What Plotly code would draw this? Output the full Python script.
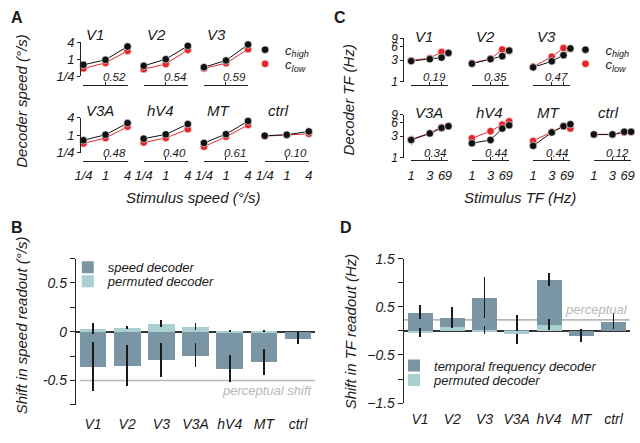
import math
import plotly.graph_objects as go

# ---------------- data ----------------
REGIONS = ['V1', 'V2', 'V3', 'V3A', 'hV4', 'MT', 'ctrl']

# Panel A: decoded speed (deg/s) vs stimulus speed
STIM_SPEED = [0.25, 1, 4]
SPEED_TICKTEXT = ['1/4', '1', '4']
dec_speed_high = [
    [0.64, 0.96, 2.83],
    [0.59, 1.01, 2.97],
    [0.53, 0.91, 3.30],
    [0.67, 1.04, 2.64],
    [0.76, 1.07, 2.44],
    [0.54, 1.09, 3.09],
    [0.96, 1.04, 1.35],
]
dec_speed_low = [
    [0.48, 0.75, 1.98],
    [0.45, 0.68, 2.15],
    [0.48, 0.73, 2.27],
    [0.52, 0.80, 1.98],
    [0.56, 0.80, 1.61],
    [0.40, 0.89, 2.26],
    [0.93, 1.00, 1.12],
]
speed_slope = [0.52, 0.54, 0.59, 0.48, 0.40, 0.61, 0.10]

# Panel C: decoded TF (Hz) vs stimulus TF
STIM_TF = [1, 3, 6, 9]
TF_TICKTEXT = ['1', '3', '6', '9']
dec_tf_high = [
    [2.85, 3.15, 3.40, 4.30],
    [2.50, 3.15, 3.65, 4.85],
    [2.07, 2.82, 3.84, 5.40],
    [2.48, 3.45, 4.57, 4.97],
    [2.10, 2.48, 4.42, 5.20],
    [1.84, 3.63, 4.97, 5.48],
    [3.29, 3.29, 3.75, 3.75],
]
dec_tf_low = [
    [2.95, 3.30, 4.50, 4.30],
    [2.57, 3.16, 5.10, 4.76],
    [2.13, 3.56, 5.49, 5.30],
    [2.55, 3.50, 4.70, 5.00],
    [2.70, 3.87, 5.40, 6.36],
    [2.36, 3.69, 4.97, 4.42],
    [3.25, 3.25, 3.60, 3.72],
]
dec_tf_high_err = [
    [0.35, 0.15, 0.15, 0.60],
    [0.40, 0.15, 0.20, 0.30],
    [0.45, 0.50, 0.30, 0.40],
    [0.60, 0.20, 0.45, 0.70],
    [0.15, 0.20, 0.20, 0.30],
    [0.35, 0.30, 0.20, 0.45],
    [0.10, 0.10, 0.10, 0.10],
]
dec_tf_low_err = [
    [0.30, 0.20, 0.40, 0.40],
    [0.30, 0.20, 0.40, 0.30],
    [0.40, 0.40, 0.60, 0.80],
    [0.60, 0.20, 0.50, 0.50],
    [0.20, 0.20, 0.30, 0.40],
    [0.30, 0.20, 0.20, 0.40],
    [0.10, 0.10, 0.10, 0.10],
]
tf_slope = [0.19, 0.35, 0.47, 0.34, 0.44, 0.44, 0.12]

# Panel B: shift in speed readout (deg/s)
speed_shift = [-0.36, -0.35, -0.29, -0.24, -0.38, -0.31, -0.066]
speed_shift_err = [0.25, 0.21, 0.17, 0.12, 0.14, 0.13, 0.058]
speed_perm = [0.03, 0.04, 0.08, 0.05, 0.004, 0.012, 0.0]
speed_perm_err = [0.058, 0.015, 0.036, 0.035, 0.01, 0.01, 0.0]
PERCEPTUAL_SPEED_SHIFT = -0.5

# Panel D: shift in TF readout (Hz)
tf_shift = [0.39, 0.27, 0.69, 0.03, 1.07, -0.10, 0.20]
tf_shift_err = [0.14, 0.23, 0.43, 0.30, 0.14, 0.13, 0.17]
tf_perm = [-0.03, 0.09, 0.02, -0.05, 0.13, 0.0, 0.0]
tf_perm_err = [0.09, 0.04, 0.08, 0.0, 0.11, 0.0, 0.0]
PERCEPTUAL_TF_SHIFT = 0.23

# ---------------- style ----------------
W, H = 640, 443
FONT = 'Liberation Sans, Arial, sans-serif'
TXT = '#1a1a1a'
AXC = '#222222'
BLACK = '#111111'
RED = '#e3262a'
DARK = '#7a96a5'
LIGHT = '#aacfd1'
GREY = '#b8b8b8'


def fx(p):
    return p / W


def fy(p):
    return 1 - p / H


def keys(n):
    return ('xaxis' if n == 1 else f'xaxis{n}', 'yaxis' if n == 1 else f'yaxis{n}',
            'x' if n == 1 else f'x{n}', 'y' if n == 1 else f'y{n}')


fig = go.Figure()
layout = {}
annotations = []


def italic(size, color=TXT):
    return dict(family=FONT, size=size, color=color, style='italic')


def small_panel(n, xdom, ydom, xline_px, yline_px, xr, yr, tickvals, xtext, ytext,
                show_xlabels, show_yaxis, yfont):
    xk, yk, _, _ = keys(n)
    layout[xk] = dict(type='log', range=xr, domain=[fx(xdom[0]), fx(xdom[1])],
                      anchor='free', position=fy(xline_px), showline=True,
                      linecolor=AXC, linewidth=1.2, ticks='inside', ticklen=3,
                      tickwidth=1.2, tickcolor=AXC, tickvals=tickvals[0], ticktext=xtext,
                      showticklabels=show_xlabels, tickfont=italic(13), tickangle=0,
                      ticklabelstandoff=3, showgrid=False, zeroline=False, fixedrange=True)
    layout[yk] = dict(type='log', range=yr, domain=[fy(ydom[1]), fy(ydom[0])],
                      anchor='free', position=fx(yline_px), visible=show_yaxis,
                      showline=True, linecolor=AXC, linewidth=1.2, ticks='outside',
                      ticklen=3, tickwidth=1.2, tickcolor=AXC, tickvals=tickvals[1],
                      ticktext=ytext, tickfont=italic(yfont), showgrid=False,
                      zeroline=False, fixedrange=True)


MARK_LINE = dict(color='white', width=0.6)

# ---------------- Panel A ----------------
A_COL_X0 = [76, 137.5, 199, 261]
A_W = 45
A_ROWS = [(35.5, 71, 80), (114, 150, 158.3)]
A_YAXIS_X = 72.7
sr = [math.log10(0.25), math.log10(4)]
for i, reg in enumerate(REGIONS):
    n = i + 1
    row, col = (0, i) if i < 3 else (1, i - 3)
    x0 = A_COL_X0[col]
    top, bot, xline = A_ROWS[row]
    small_panel(n, (x0, x0 + A_W), (top, bot), xline, A_YAXIS_X, sr, sr,
                (STIM_SPEED, STIM_SPEED), SPEED_TICKTEXT, SPEED_TICKTEXT,
                row == 1, col == 0, 13)
    _, _, xa, ya = keys(n)
    for yv, c in ((dec_speed_low[i], RED), (dec_speed_high[i], BLACK)):
        fig.add_trace(go.Scatter(x=STIM_SPEED, y=yv, mode='lines', line=dict(color=c, width=1),
                                 xaxis=xa, yaxis=ya, showlegend=False, hoverinfo='skip'))
    fig.add_trace(go.Scatter(x=STIM_SPEED, y=dec_speed_low[i], mode='markers',
                             marker=dict(color=RED, size=7.5, line=MARK_LINE), cliponaxis=False,
                             xaxis=xa, yaxis=ya, name='c<sub>low</sub>',
                             showlegend=(i == 0), legend='legend2'))
    fig.add_trace(go.Scatter(x=STIM_SPEED, y=dec_speed_high[i], mode='markers',
                             marker=dict(color=BLACK, size=7.5, line=MARK_LINE), cliponaxis=False,
                             xaxis=xa, yaxis=ya, name='c<sub>high</sub>',
                             showlegend=(i == 0), legend='legend'))
    annotations.append(dict(text=reg, x=fx(x0 + 1), y=fy(top - 7.5), xref='paper', yref='paper',
                            xanchor='left', yanchor='middle', showarrow=False, font=italic(15)))
    annotations.append(dict(text=f'{speed_slope[i]:.2f}', x=fx(x0 + A_W), y=fy(bot + 0.5),
                            xref='paper', yref='paper', xanchor='right', yanchor='middle',
                            showarrow=False, font=italic(11.5)))

# ---------------- Panel C ----------------
C_COL_X0 = [410.5, 472.5, 535, 597]
C_W = 38
C_ROWS = [(31.5, 76.5, 79.5), (110.5, 155.5, 158)]
C_YAXIS_X = 402.5
tr = [0, math.log10(9)]
for i, reg in enumerate(REGIONS):
    n = 8 + i
    row, col = (0, i) if i < 3 else (1, i - 3)
    x0 = C_COL_X0[col]
    top, bot, xline = C_ROWS[row]
    small_panel(n, (x0, x0 + C_W), (top, bot), xline, C_YAXIS_X, tr, tr,
                (STIM_TF, STIM_TF), TF_TICKTEXT, TF_TICKTEXT, row == 1, col == 0, 12)
    _, _, xa, ya = keys(n)
    for yv, c in ((dec_tf_low[i], RED), (dec_tf_high[i], BLACK)):
        fig.add_trace(go.Scatter(x=STIM_TF, y=yv, mode='lines', line=dict(color=c, width=1),
                                 xaxis=xa, yaxis=ya, showlegend=False, hoverinfo='skip'))
    fig.add_trace(go.Scatter(x=STIM_TF, y=dec_tf_low[i], mode='markers',
                             marker=dict(color=RED, size=7.5, line=MARK_LINE), cliponaxis=False,
                             error_y=dict(type='data', array=dec_tf_low_err[i], color='#ee9a9a',
                                          thickness=1, width=0),
                             xaxis=xa, yaxis=ya, name='c<sub>low</sub>',
                             showlegend=(i == 0), legend='legend4'))
    fig.add_trace(go.Scatter(x=STIM_TF, y=dec_tf_high[i], mode='markers',
                             marker=dict(color=BLACK, size=7.5, line=MARK_LINE), cliponaxis=False,
                             error_y=dict(type='data', array=dec_tf_high_err[i], color='#666666',
                                          thickness=1, width=0),
                             xaxis=xa, yaxis=ya, name='c<sub>high</sub>',
                             showlegend=(i == 0), legend='legend3'))
    annotations.append(dict(text=reg, x=fx(x0 + 2), y=fy(top - 2), xref='paper', yref='paper',
                            xanchor='left', yanchor='middle', showarrow=False, font=italic(15)))
    annotations.append(dict(text=f'{tf_slope[i]:.2f}', x=fx(x0 + C_W), y=fy(bot - 5),
                            xref='paper', yref='paper', xanchor='right', yanchor='middle',
                            showarrow=False, font=italic(11.5)))

# ---------------- Panels B and D ----------------
def bar_panel(n, xdom, ydom, yr, tickvals, ticktext, minorvals, standoff):
    xk, yk, xa, ya = keys(n)
    layout[xk] = dict(domain=[fx(xdom[0]), fx(xdom[1])], range=[-0.5, 6.5], anchor=ya,
                      type='category', showline=False, ticks='', tickfont=italic(14),
                      ticklabelstandoff=standoff, showgrid=False, zeroline=False, fixedrange=True)
    layout[yk] = dict(domain=[fy(ydom[1]), fy(ydom[0])], range=yr, anchor=xa,
                      showline=True, linecolor=AXC, linewidth=1.2, ticks='outside', ticklen=5,
                      tickwidth=1.2, tickcolor=AXC, tickvals=tickvals, ticktext=ticktext,
                      minor=dict(tickvals=minorvals, ticks='outside', ticklen=5, tickwidth=1.2,
                                 tickcolor=AXC, showgrid=False),
                      tickfont=italic(14), showgrid=False, zeroline=True,
                      zerolinecolor='#333333', zerolinewidth=1.5, fixedrange=True)
    return xa, ya


xa, ya = bar_panel(15, (68.3, 312.5), (260, 411.7), [-0.75, 0.75],
                   [-0.5, 0, 0.5], ['-0.5', '0', '0.5'], [-0.75, -0.25, 0.25, 0.75], 9)
fig.add_trace(go.Bar(x=REGIONS, y=speed_shift, width=0.78, marker=dict(color=DARK, line=dict(width=0)),
                     error_y=dict(type='data', array=speed_shift_err, color='#1a1a1a', thickness=1.8, width=0),
                     xaxis=xa, yaxis=ya, name='speed decoder', legend='legend5'))
fig.add_trace(go.Bar(x=REGIONS, y=speed_perm, width=0.78, marker=dict(color=LIGHT, line=dict(width=0)),
                     error_y=dict(type='data', array=speed_perm_err, color='#1a1a1a', thickness=1.8, width=0),
                     xaxis=xa, yaxis=ya, name='permuted decoder', legend='legend6'))
shapes = [dict(type='line', xref=xa, yref=ya, x0=-0.38, x1=6.5,
               y0=PERCEPTUAL_SPEED_SHIFT, y1=PERCEPTUAL_SPEED_SHIFT,
               line=dict(color=GREY, width=1.5), layer='below')]
annotations.append(dict(text='perceptual shift', x=6.5, y=PERCEPTUAL_SPEED_SHIFT, xref=xa, yref=ya,
                        xanchor='right', yanchor='top', yshift=-1, showarrow=False,
                        font=italic(13, GREY)))

xa, ya = bar_panel(16, (403, 633.5), (260, 410), [-1.5, 1.5],
                   [-1.5, -0.5, 0.5, 1.5], ['\u22121.5', '\u22120.5', '0.5', '1.5'],
                   [-1.0, 0, 1.0], 6)
fig.add_trace(go.Bar(x=REGIONS, y=tf_shift, width=0.77, marker=dict(color=DARK, line=dict(width=0)),
                     error_y=dict(type='data', array=tf_shift_err, color='#1a1a1a', thickness=1.8, width=0),
                     xaxis=xa, yaxis=ya, name='temporal frequency decoder', legend='legend7'))
fig.add_trace(go.Bar(x=REGIONS, y=tf_perm, width=0.77, marker=dict(color=LIGHT, line=dict(width=0)),
                     error_y=dict(type='data', array=tf_perm_err, color='#1a1a1a', thickness=1.8, width=0),
                     xaxis=xa, yaxis=ya, name='permuted decoder', legend='legend8'))
shapes.append(dict(type='line', xref=xa, yref=ya, x0=-0.5, x1=6.5,
                   y0=PERCEPTUAL_TF_SHIFT, y1=PERCEPTUAL_TF_SHIFT,
                   line=dict(color=GREY, width=1.8), layer='below'))
annotations.append(dict(text='perceptual', x=6.5, y=PERCEPTUAL_TF_SHIFT, xref=xa, yref=ya,
                        xanchor='right', yanchor='bottom', yshift=1, showarrow=False,
                        font=italic(13, GREY)))

# ---------------- legends ----------------
def leg(xp, yp, size=13):
    return dict(x=fx(xp), y=fy(yp), xanchor='left', yanchor='middle', bgcolor='rgba(0,0,0,0)',
                borderwidth=0, font=italic(size), itemwidth=30, itemclick=False,
                itemdoubleclick=False)


LEG_SHIFT = 20
layout['legend'] = leg(261 - LEG_SHIFT, 43.3)
layout['legend2'] = leg(261 - LEG_SHIFT, 58)
layout['legend3'] = leg(588 - LEG_SHIFT, 43.3)
layout['legend4'] = leg(588 - LEG_SHIFT, 58)
layout['legend5'] = leg(80 - LEG_SHIFT, 269)
layout['legend6'] = leg(80 - LEG_SHIFT, 283.5)
layout['legend7'] = leg(413 - LEG_SHIFT, 371)
layout['legend8'] = leg(413 - LEG_SHIFT, 386)

# ---------------- titles / panel letters ----------------
def ann(text, xp, yp, size=15, angle=0, bold=False):
    f = dict(family=FONT, size=size, color=TXT)
    if bold:
        f['weight'] = 'bold'
    else:
        f['style'] = 'italic'
    annotations.append(dict(text=text, x=fx(xp), y=fy(yp), xref='paper', yref='paper',
                            xanchor='center', yanchor='middle', showarrow=False,
                            textangle=angle, font=f))


ann('A', 8, 10, 16, bold=True)
ann('C', 338, 10, 16, bold=True)
ann('B', 8, 228, 16, bold=True)
ann('D', 344, 228, 16, bold=True)
ann('Decoder speed (\u00b0/s)', 12.5, 96, 15, -90)
ann('Stimulus speed (\u00b0/s)', 188, 197, 15)
ann('Decoder TF (Hz)', 347, 95, 15, -90)
ann('Stimulus TF (Hz)', 522, 197, 15)
ann('Shift in speed readout (\u00b0/s)', 12.5, 329, 15, -90)
ann('Shift in TF readout (Hz)', 348.5, 335, 15, -90)

fig.update_layout(width=W, height=H, autosize=False, margin=dict(l=0, r=0, t=0, b=0),
                  paper_bgcolor='white', plot_bgcolor='rgba(0,0,0,0)', barmode='overlay',
                  bargap=0, font=dict(family=FONT, color=TXT), annotations=annotations,
                  shapes=shapes, hovermode=False, **layout)

fig.write_html('out.html', config={'displayModeBar': False},
               post_script="document.body.style.margin='0';document.body.style.overflow='hidden';")
